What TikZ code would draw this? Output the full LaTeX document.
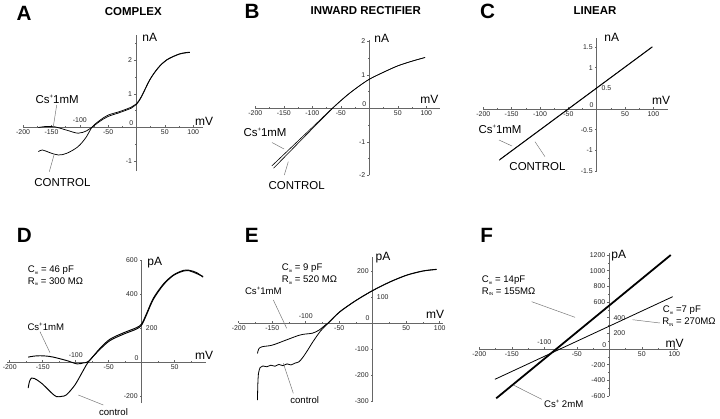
\documentclass[tikz,border=0pt]{standalone}
\usepackage{fontspec}
\setmainfont{Liberation Sans}
\newcommand\tsub[1]{\raisebox{-0.35ex}{\fontsize{3.2}{3.2}\selectfont #1}}
\newcommand\tsup{\raisebox{0.85ex}{\fontsize{4.5}{4.5}\selectfont +}}
\begin{document}
\begin{tikzpicture}[x=0.75pt,y=-0.75pt,
  ax/.style={draw=black!60,line width=0.45pt},
  tk/.style={draw=black!60,line width=0.4pt},
  crv/.style={draw=black,line width=0.55pt},
  lead/.style={draw=black!55,line width=0.35pt},
  tl/.style={font=\fontsize{5.2}{6}\selectfont,inner sep=0pt,text=black!85},
  lab/.style={font=\fontsize{8.6}{10}\selectfont,inner sep=0pt},
  slab/.style={font=\fontsize{7.2}{9}\selectfont,inner sep=0pt},
  unit/.style={font=\fontsize{9}{11}\selectfont,inner sep=0pt},
  letter/.style={font=\fontsize{15.5}{18}\selectfont\bfseries,inner sep=0pt},
  ttl/.style={font=\fontsize{8.6}{10}\selectfont\bfseries,inner sep=0pt}]
\useasboundingbox (0,0) rectangle (720,418);
\fill[white] (0,0) rectangle (720,418);

% ---------------- Panel A ----------------
\begin{scope}[shift={(136.5,127.5)},x={(0.42525pt,0pt)},y={(0pt,25.125pt)}]
\draw[ax] (-200,0) -- (117,0);
\draw[ax] (0,-1.3) -- (0,2.75);
\foreach \v in {-200,-150,...,100} \draw[tk] (\v,0) -- ++(0pt,1.6pt);
\foreach \v in {-175,-125,...,75} \draw[tk] (\v,0) -- ++(0pt,0.9pt);
\foreach \v in {-1,0,1,2} \draw[tk] (0,\v) -- ++(-1.6pt,0pt);
\foreach \v in {-0.5,0.5,1.5,2.5} \draw[tk] (0,\v) -- ++(-0.9pt,0pt);
\foreach \v/\n in {-200/1,-150/2,-50/3,50/4,100/5} \node[tl,below=1.7pt] (Ax\n) at (\v,0) {\v};
\node[tl,above=3.2pt] (Ax6) at (-100,0) {-100};
\foreach \v/\n in {2/1,1/2,-1/3} \node[tl,left=3.2pt] (Ay\n) at (0,\v) {\v};
\node[tl,anchor=south east] (Ay4) at ([xshift=-2.2pt,yshift=1.2pt]0,0) {0};
\draw[crv] plot[smooth,tension=0.55] coordinates {(-173,0.0) (-160,0.03) (-144,0.02) (-123,-0.08) (-103,-0.17) (-88,-0.10) (-79,0) (-65,0.18) (-50,0.33) (-29,0.45) (-9,0.58) (0,0.69) (9,0.92) (23.5,1.42) (38,1.77) (53,2.01) (76,2.19) (94,2.24)};
\draw[crv] plot[smooth,tension=0.55] coordinates {(-173,-0.72) (-166,-0.67) (-153,-0.75) (-138,-0.82) (-123,-0.77) (-103,-0.57) (-88,-0.27) (-79,0) (-65,0.21) (-50,0.37) (-29,0.48) (-9,0.61) (0,0.71) (9,0.94) (23.5,1.43) (38,1.78) (53,2.02) (76,2.2) (94,2.25)};
\end{scope}
\node[letter] (LA) at (24,13.7) {A};
\node[ttl] (TA) at (133.3,11.2) {COMPLEX};
\node[unit] (UyA) at (149.7,37.5) {nA};
\node[unit] (UxA) at (204.2,121.3) {mV};
\node[lab] (csA) at (57.2,99.5) {Cs\tsup1mM};
\node[lab] (conA) at (62.5,182.3) {CONTROL};
\coordinate (csA1) at (56.7,105); \coordinate (csA2) at (53.3,126.7);
\coordinate (conA1) at (49.3,171.7); \coordinate (conA2) at (54,155);
\draw[lead] (csA1) -- (csA2);
\draw[lead] (conA1) -- (conA2);

% ---------------- Panel B ----------------
\begin{scope}[shift={(369.3,108.3)},x={(0.4275pt,0pt)},y={(0pt,25.125pt)}]
\draw[ax] (-200,0) -- (124,0);
\draw[ax] (0,-2) -- (0,2.05);
\foreach \v in {-200,-150,...,100} \draw[tk] (\v,0) -- ++(0pt,1.6pt);
\foreach \v in {-175,-125,...,75} \draw[tk] (\v,0) -- ++(0pt,0.9pt);
\foreach \v in {-2,-1,0,1,2} \draw[tk] (0,\v) -- ++(-1.6pt,0pt);
\foreach \v in {-1.5,-0.5,0.5,1.5} \draw[tk] (0,\v) -- ++(-0.9pt,0pt);
\foreach \v/\n in {-200/1,-150/2,-100/3,-50/4,50/5,100/6} \node[tl,below=1.7pt] (Bx\n) at (\v,0) {\v};
\foreach \v/\n in {2/1,1/2,-1/3,-2/4} \node[tl,left=2.8pt] (By\n) at (0,\v) {\v};
\node[tl,anchor=south east] (By5) at ([xshift=-2.2pt,yshift=1.2pt]0,0) {0};
\draw[crv,line width=0.45pt] plot[smooth,tension=0.5] coordinates {(-171,-1.72) (-130,-1.055) (-100,-0.57) (-65,0) (-40,0.38) (-20,0.64) (0,0.87) (25,1.08) (50,1.27) (75,1.41) (98,1.52)};
\draw[crv,line width=0.45pt] plot[smooth,tension=0.5] coordinates {(-168,-1.79) (-130,-1.13) (-100,-0.61) (-65,-0.01) (-40,0.37) (-20,0.635) (0,0.865) (25,1.075) (50,1.265) (75,1.405) (98,1.515)};
\end{scope}
\node[letter] (LB) at (252,11) {B};
\node[ttl] (TB) at (365.8,10.8) {INWARD RECTIFIER};
\node[unit] (UyB) at (381.7,38.8) {nA};
\node[unit] (UxB) at (429.3,99.2) {mV};
\node[lab] (csB) at (265,132.5) {Cs\tsup1mM};
\node[lab] (conB) at (296.7,185.7) {CONTROL};
\coordinate (csB1) at (272,142.5); \coordinate (csB2) at (284,149);
\coordinate (conB1) at (284.3,175); \coordinate (conB2) at (288.3,161.7);
\draw[lead] (csB1) -- (csB2);
\draw[lead] (conB1) -- (conB2);

% ---------------- Panel C ----------------
\begin{scope}[shift={(596.7,109)},x={(0.42525pt,0pt)},y={(0pt,30.975pt)}]
\draw[ax] (-200,0) -- (126,0);
\draw[ax] (0,-1.5) -- (0,1.71);
\foreach \v in {-200,-150,...,100} \draw[tk] (\v,0) -- ++(0pt,1.6pt);
\foreach \v in {-175,-125,...,75} \draw[tk] (\v,0) -- ++(0pt,0.9pt);
\foreach \v in {-1.5,-1,-0.5,0,0.5,1,1.5} \draw[tk] (0,\v) -- ++(-1.6pt,0pt);
\foreach \v in {-1.25,-0.75,-0.25,0.25,0.75,1.25} \draw[tk] (0,\v) -- ++(-0.9pt,0pt);
\foreach \v/\n in {-200/1,-150/2,-100/3,-50/4,50/5,100/6} \node[tl,below=1.7pt] (Cx\n) at (\v,0) {\v};
\foreach \v/\n in {1.5/1,1/2,-0.5/3,-1/4,-1.5/5} \node[tl,left=2.8pt] (Cy\n) at (0,\v) {\v};
\node[tl,right=3.5pt] (Cy6) at (0,0.5) {0.5};
\node[tl,anchor=south east] (Cy7) at ([xshift=-2.2pt,yshift=1.2pt]0,0) {0};
\draw[crv,line width=0.6pt] (-172,-1.24) -- (98,1.5);
\draw[crv,line width=0.4pt] (-170,-1.21) -- (98,1.51);
\end{scope}
\node[letter] (LC) at (487.5,11) {C};
\node[ttl] (TC) at (595,11) {LINEAR};
\node[unit] (UyC) at (611.7,37) {nA};
\node[unit] (UxC) at (661,100.3) {mV};
\node[lab] (csC) at (500,129.2) {Cs\tsup1mM};
\node[lab] (conC) at (537.5,166.5) {CONTROL};
\coordinate (csC1) at (499,140); \coordinate (csC2) at (512,146);
\coordinate (conC1) at (545,156.7); \coordinate (conC2) at (535,141.7);
\draw[lead] (csC1) -- (csC2);
\draw[lead] (conC1) -- (conC2);

% ---------------- Panel D ----------------
\begin{scope}[shift={(141.7,362)},x={(0.495pt,0pt)},y={(0pt,0.12675pt)}]
\draw[ax] (-204,0) -- (98,0);
\draw[ax] (0,-243) -- (0,603);
\foreach \v in {-200,-150,...,50} \draw[tk] (\v,0) -- ++(0pt,1.6pt);
\foreach \v in {-175,-125,...,75} \draw[tk] (\v,0) -- ++(0pt,0.9pt);
\foreach \v in {-200,0,200,400,600} \draw[tk] (0,\v) -- ++(-1.6pt,0pt);
\foreach \v in {-100,100,300,500} \draw[tk] (0,\v) -- ++(-0.9pt,0pt);
\foreach \v/\n in {-200/1,-150/2,-50/3,50/4} \node[tl,below=1.7pt] (Dx\n) at (\v,0) {\v};
\node[tl,above=3pt] (Dx5) at (-100,0) {-100};
\foreach \v/\n in {600/1,400/2,-200/3} \node[tl,left=2.8pt] (Dy\n) at (0,\v) {\v};
\node[tl,right=3pt] (Dy4) at (0,200) {200};
\node[tl,anchor=south east] (Dy5) at ([xshift=-2.2pt,yshift=1.2pt]0,0) {0};
\draw[crv,line width=0.7pt] plot[smooth,tension=0.5] coordinates {(-172,29) (-163,35) (-154,37) (-144,35) (-134,29) (-114,9) (-98,-11) (-88,-5) (-80,5) (-63,82) (-48,135) (-28,172) (-8,203) (0,226) (7.6,289) (17.7,378) (33,462) (48,515) (63,542) (72,543) (78,537) (85,525) (93,502)};
\draw[crv,line width=0.7pt] plot[smooth,tension=0.5] coordinates {(-172,-154) (-170,-115) (-167,-95) (-163,-97) (-159,-105) (-151,-128) (-144,-154) (-136,-185) (-129,-205) (-121,-203) (-114,-194) (-101,-135) (-88,-46) (-80,5) (-63,76) (-48,127) (-28,164) (-8,195) (0,219) (7.6,282) (17.7,371) (33,457) (48,512) (63,538) (72,540) (78,532) (85,520) (93,506)};
\end{scope}
\node[letter] (LD) at (24.3,235.3) {D};
\node[unit] (UyD) at (154.7,263) {pA};
\node[unit] (UxD) at (204.2,355.8) {mV};
\node[slab,anchor=west] (CmD) at (27.7,270) {C\tsub{m} = 46 pF};
\node[slab,anchor=west] (RD) at (27.7,281.7) {R\tsub{in} = 300 MΩ};
\node[slab] (csD) at (45.8,326.7) {Cs\tsup1mM};
\node[slab] (conD) at (113.5,412.2) {control};
\coordinate (csD1) at (40,331.7); \coordinate (csD2) at (50,352.7);
\coordinate (conD1) at (103.3,405); \coordinate (conD2) at (78.3,395);
\draw[lead] (csD1) -- (csD2);
\draw[lead] (conD1) -- (conD2);

% ---------------- Panel E ----------------
\begin{scope}[shift={(372.7,322.8)},x={(0.5025pt,0pt)},y={(0pt,0.195pt)}]
\draw[ax] (-200,0) -- (105,0);
\draw[ax] (0,-300) -- (0,254);
\foreach \v in {-200,-150,...,100} \draw[tk] (\v,0) -- ++(0pt,1.6pt);
\foreach \v in {-175,-125,...,75} \draw[tk] (\v,0) -- ++(0pt,0.9pt);
\foreach \v in {-300,-200,...,200} \draw[tk] (0,\v) -- ++(-1.6pt,0pt);
\foreach \v in {-250,-150,...,150} \draw[tk] (0,\v) -- ++(-0.9pt,0pt);
\foreach \v/\n in {-200/1,-150/2,-50/3,50/4,100/5} \node[tl,below=1.7pt] (Ex\n) at (\v,0) {\v};
\node[tl,above=3pt] (Ex6) at (-100,0) {-100};
\foreach \v/\n in {200/1,-100/2,-200/3,-300/4} \node[tl,left=2.8pt] (Ey\n) at (0,\v) {\v};
\node[tl,right=3pt] (Ey5) at (0,100) {100};
\node[tl,anchor=south east] (Ey6) at ([xshift=-2.2pt,yshift=1.2pt]0,0) {0};
\draw[crv,line width=0.6pt] plot[smooth,tension=0.5] coordinates {(-172,-118) (-170,-100) (-165,-92) (-150,-86) (-130,-67) (-110,-48) (-100,-43) (-90,-40) (-80,-28) (-70,-7) (-66,0) (-49,43) (-24,88) (1,126) (26,158) (51,184) (75.5,200) (95.5,206)};
\draw[crv,line width=0.6pt] plot[smooth,tension=0.45] coordinates {(-172,-297) (-171.5,-240) (-170.5,-195) (-168,-172) (-164,-166) (-158,-169) (-152,-163) (-146,-167) (-140,-160) (-134,-165) (-128,-158) (-122,-162) (-116,-155) (-110,-150) (-104,-132) (-97,-105) (-89,-72) (-78,-32) (-66,0) (-49,42) (-24,87) (1,125) (26,157) (51,183) (75.5,199) (95.5,205)};
\end{scope}
\node[letter] (LE) at (251.7,235.8) {E};
\node[unit] (UyE) at (383,257.5) {pA};
\node[unit] (UxE) at (435,314.7) {mV};
\node[slab,anchor=west] (CmE) at (281.7,268.3) {C\tsub{in} = 9 pF};
\node[slab,anchor=west] (RE) at (281.7,280.5) {R\tsub{in} = 520 MΩ};
\node[slab] (csE) at (263.3,290.5) {Cs\tsup1mM};
\node[slab] (conE) at (304.7,400.5) {control};
\coordinate (csE1) at (273.3,300); \coordinate (csE2) at (286.7,328.3);
\coordinate (conE1) at (293.3,393.3); \coordinate (conE2) at (283.3,363.3);
\draw[lead] (csE1) -- (csE2);
\draw[lead] (conE1) -- (conE2);

% ---------------- Panel F ----------------
\begin{scope}[shift={(609.3,349)},x={(0.4875pt,0pt)},y={(0pt,0.058725pt)}]
\draw[ax] (-200,0) -- (105,0);
\draw[ax] (0,-600) -- (0,1230);
\foreach \v in {-200,-150,...,100} \draw[tk] (\v,0) -- ++(0pt,1.6pt);
\foreach \v in {-175,-125,...,75} \draw[tk] (\v,0) -- ++(0pt,0.9pt);
\foreach \v in {-600,-400,...,1200} \draw[tk] (0,\v) -- ++(-1.6pt,0pt);
\foreach \v in {-500,-300,...,1100} \draw[tk] (0,\v) -- ++(-0.9pt,0pt);
\foreach \v/\n in {-200/1,-150/2,-50/3,50/4,100/5} \node[tl,below=1.7pt] (Fx\n) at (\v,0) {\v};
\node[tl,above=3pt] (Fx6) at (-100,0) {-100};
\foreach \v/\n in {1200/1,1000/2,800/3,600/4,-200/5,-400/6,-600/7} \node[tl,left=2.8pt] (Fy\n) at (0,\v) {\v};
\foreach \v/\n in {400/8,200/9} \node[tl,right=3pt] (Fy\n) at (0,\v) {\v};
\node[tl,anchor=south east] (Fy10) at ([xshift=-2.2pt,yshift=1.2pt]0,0) {0};
\draw[crv,line width=1.35pt] (-174,-630) -- (94.5,1200);
\draw[crv,line width=0.6pt] (-176,-387) -- (97.5,668);
\end{scope}
\node[letter] (LF) at (486.7,235.8) {F};
\node[unit] (UyF) at (618.8,255.8) {pA};
\node[unit] (UxF) at (674.7,343.3) {mV};
\node[slab,anchor=west] (CmF) at (481.7,280) {C\tsub{m} = 14pF};
\node[slab,anchor=west] (RF) at (481.7,291.7) {R\tsub{IN} = 155MΩ};
\node[slab,anchor=west] (CmF2) at (662.7,310.5) {C\tsub{m} =7 pF};
\node[slab,anchor=west] (RF2) at (662,322.5) {R\tsub{IN} = 270MΩ};
\node[slab] (csF) at (563.7,403.8) {Cs\tsup\ 2mM};
\coordinate (F1a) at (531.7,301.7); \coordinate (F1b) at (575,317.3);
\coordinate (F2a) at (660,323); \coordinate (F2b) at (632.5,319.7);
\coordinate (F3a) at (541.7,399.3); \coordinate (F3b) at (513.3,385);
\draw[lead] (F1a) -- (F1b);
\draw[lead] (F2a) -- (F2b);
\draw[lead] (F3a) -- (F3b);
\end{tikzpicture}
\end{document}
